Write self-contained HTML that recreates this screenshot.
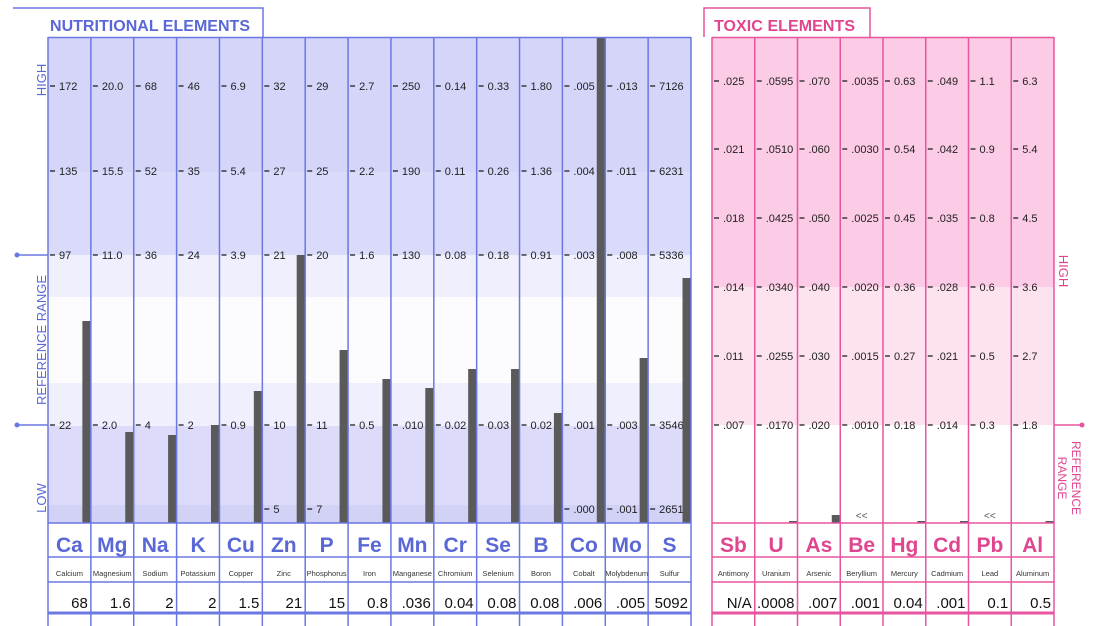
<!DOCTYPE html>
<html><head><meta charset="utf-8">
<style>
html,body{margin:0;padding:0;background:#fff;width:1097px;height:626px;overflow:hidden}
svg{display:block;font-family:"Liberation Sans",Arial,sans-serif}
</style></head>
<body>
<svg id="s" width="1097" height="626" viewBox="0 0 1097 626" xmlns="http://www.w3.org/2000/svg"></svg>
<script>
const S=document.getElementById('s');let h='';
const B='#6b78e2',BT='#5a68d6',P='#e8559e',PT='#e0458f';
const nx0=48,nw=(691-48)/15, tx0=712,tw=(1054-712)/8;
[[37,172,'#d5d5fa'],[172,255,'#dadafb'],[255,297,'#efeffd'],[297,383,'#fcfcff'],[383,426,'#efeffd'],[426,505,'#dcdcfa'],[505,523,'#d2d2f6']].forEach(b=>h+=`<rect x="${nx0}" y="${b[0]}" width="${691-nx0}" height="${b[1]-b[0]}" fill="${b[2]}"/>`);
[[37,287,'#fccbe5'],[287,425,'#fde3f0']].forEach(b=>h+=`<rect x="${tx0}" y="${b[0]}" width="${1054-tx0}" height="${b[1]-b[0]}" fill="${b[2]}"/>`);
h+=`<polyline points="13,8 263,8 263,37" fill="none" stroke="${B}" stroke-width="1.5"/>`;
h+=`<text x="50" y="31" font-size="16" font-weight="bold" fill="${BT}" textLength="200" lengthAdjust="spacing">NUTRITIONAL  ELEMENTS</text>`;
h+=`<polyline points="704,37 704,8 870,8 870,37" fill="none" stroke="${P}" stroke-width="1.5"/>`;
h+=`<text x="714" y="31" font-size="16" font-weight="bold" fill="${PT}" textLength="141" lengthAdjust="spacing">TOXIC  ELEMENTS</text>`;
h+=`<text transform="translate(46,80) rotate(-90)" font-size="13" fill="${BT}" text-anchor="middle">HIGH</text>`;
h+=`<text transform="translate(46,340) rotate(-90)" font-size="13" fill="${BT}" text-anchor="middle">REFERENCE  RANGE</text>`;
h+=`<text transform="translate(46,498) rotate(-90)" font-size="13" fill="${BT}" text-anchor="middle">LOW</text>`;
[255,425].forEach(y=>h+=`<line x1="17" y1="${y}" x2="${nx0}" y2="${y}" stroke="${B}" stroke-width="1.5"/><circle cx="17" cy="${y}" r="2.5" fill="${B}"/>`);
h+=`<text transform="translate(1059,271) rotate(90)" font-size="13" fill="${PT}" text-anchor="middle">HIGH</text>`;
h+=`<text transform="translate(1072,478) rotate(90)" font-size="12" fill="${PT}" text-anchor="middle">REFERENCE</text>`;
h+=`<text transform="translate(1058,478) rotate(90)" font-size="12" fill="${PT}" text-anchor="middle">RANGE</text>`;
h+=`<line x1="1054" y1="425" x2="1082" y2="425" stroke="${P}" stroke-width="1.5"/><circle cx="1082" cy="425" r="2.5" fill="${P}"/>`;
const nsym=['Ca','Mg','Na','K','Cu','Zn','P','Fe','Mn','Cr','Se','B','Co','Mo','S'];
const nname=['Calcium','Magnesium','Sodium','Potassium','Copper','Zinc','Phosphorus','Iron','Manganese','Chromium','Selenium','Boron','Cobalt','Molybdenum','Sulfur'];
const nrows=[[86,['172','20.0','68','46','6.9','32','29','2.7','250','0.14','0.33','1.80','.005','.013','7126']],
[171,['135','15.5','52','35','5.4','27','25','2.2','190','0.11','0.26','1.36','.004','.011','6231']],
[255,['97','11.0','36','24','3.9','21','20','1.6','130','0.08','0.18','0.91','.003','.008','5336']],
[425,['22','2.0','4','2','0.9','10','11','0.5','.010','0.02','0.03','0.02','.001','.003','3546']],
[509,['','','','','','5','7','','','','','','.000','.001','2651']]];
const nbar=[321,432,435,425,391,255,350,379,388,369,369,413,37,358,278];
const nval=['68','1.6','2','2','1.5','21','15','0.8','.036','0.04','0.08','0.08','.006','.005','5092'];
for(let i=0;i<15;i++){const x=nx0+i*nw;
 nrows.forEach(r=>{if(r[1][i])h+=`<line x1="${x+2}" y1="${r[0]}" x2="${x+7}" y2="${r[0]}" stroke="#222" stroke-width="1.3"/><text x="${x+11}" y="${r[0]+4}" font-size="11" fill="#222">${r[1][i]}</text>`;});
 h+=`<rect x="${x+nw-8.5}" y="${nbar[i]}" width="8" height="${523-nbar[i]}" fill="#5a5a5a"/>`;
 h+=`<text x="${x+nw/2}" y="552" font-size="21" font-weight="bold" fill="${BT}" text-anchor="middle">${nsym[i]}</text>`;
 h+=`<text x="${x+nw/2}" y="576" font-size="7.5" fill="#333" text-anchor="middle">${nname[i]}</text>`;
 h+=`<text x="${x+nw-3}" y="608" font-size="15" fill="#111" text-anchor="end">${nval[i]}</text>`;
}
for(let i=0;i<=15;i++){const x=nx0+i*nw;h+=`<line x1="${x}" y1="37" x2="${x}" y2="626" stroke="${B}" stroke-width="1.5"/>`;}
h+=`<line x1="${nx0}" y1="37.5" x2="691" y2="37.5" stroke="${B}" stroke-width="1.5"/>`;
[523,557,582].forEach(y=>h+=`<line x1="${nx0}" y1="${y}" x2="691" y2="${y}" stroke="${B}" stroke-width="1.5"/>`);
h+=`<line x1="${nx0}" y1="613" x2="691" y2="613" stroke="${B}" stroke-width="3"/>`;
const tsym=['Sb','U','As','Be','Hg','Cd','Pb','Al'];
const tname=['Antimony','Uranium','Arsenic','Beryllium','Mercury','Cadmium','Lead','Aluminum'];
const ty=[81,149,218,287,356,425];
const tcols=[['.025','.021','.018','.014','.011','.007'],['.0595','.0510','.0425','.0340','.0255','.0170'],['.070','.060','.050','.040','.030','.020'],['.0035','.0030','.0025','.0020','.0015','.0010'],['0.63','0.54','0.45','0.36','0.27','0.18'],['.049','.042','.035','.028','.021','.014'],['1.1','0.9','0.8','0.6','0.5','0.3'],['6.3','5.4','4.5','3.6','2.7','1.8']];
const tval=['N/A','.0008','.007','.001','0.04','.001','0.1','0.5'];
const tbar=[0,2,8,-1,2,2,-1,2];
for(let i=0;i<8;i++){const x=tx0+i*tw;
 ty.forEach((y,k)=>h+=`<line x1="${x+2}" y1="${y}" x2="${x+7}" y2="${y}" stroke="#222" stroke-width="1.3"/><text x="${x+11}" y="${y+4}" font-size="11" fill="#222">${tcols[i][k]}</text>`);
 if(tbar[i]>0)h+=`<rect x="${x+tw-8.5}" y="${523-tbar[i]}" width="8" height="${tbar[i]}" fill="#5a5a5a"/>`;
 if(tbar[i]<0)h+=`<text x="${x+tw/2}" y="519" font-size="10" fill="#555" text-anchor="middle">&lt;&lt;</text>`;
 h+=`<text x="${x+tw/2}" y="552" font-size="21" font-weight="bold" fill="${PT}" text-anchor="middle">${tsym[i]}</text>`;
 h+=`<text x="${x+tw/2}" y="576" font-size="7.5" fill="#333" text-anchor="middle">${tname[i]}</text>`;
 h+=`<text x="${x+tw-3}" y="608" font-size="15" fill="#111" text-anchor="end">${tval[i]}</text>`;
}
for(let i=0;i<=8;i++){const x=tx0+i*tw;h+=`<line x1="${x}" y1="37" x2="${x}" y2="626" stroke="${P}" stroke-width="1.5"/>`;}
h+=`<line x1="${tx0}" y1="37.5" x2="1054" y2="37.5" stroke="${P}" stroke-width="1.5"/>`;
[523,557,582].forEach(y=>h+=`<line x1="${tx0}" y1="${y}" x2="1054" y2="${y}" stroke="${P}" stroke-width="1.5"/>`);
h+=`<line x1="${tx0}" y1="613" x2="1054" y2="613" stroke="${P}" stroke-width="3"/>`;
S.innerHTML=h;
</script>
</body></html>
